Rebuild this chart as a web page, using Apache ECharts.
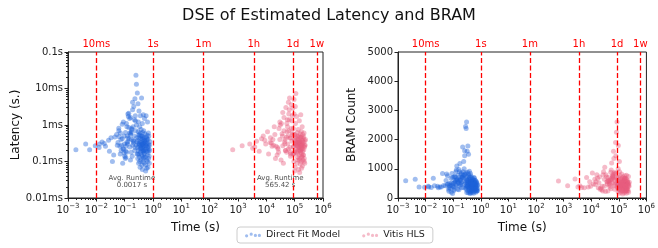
<!DOCTYPE html>
<html>
<head>
<meta charset="utf-8">
<script src="https://cdn.jsdelivr.net/npm/echarts@6/dist/echarts.min.js"></script>
<style>
  html, body { margin: 0; padding: 0; background: #fff; }
  #chart { width: 658px; height: 248px; }
</style>
</head>
<body>
<div id="chart"></div>
<script>
// one entry per design point: runtime (s), latency (ms), BRAM count
const dfTime = [
  0.0019, 0.0042, 0.0058, 0.0092, 0.0125, 0.016, 0.013, 0.021, 0.027, 0.019,
  0.033, 0.045, 0.029, 0.058, 0.041, 0.052, 0.068, 0.037, 0.074, 0.062,
  0.088, 0.071, 0.11, 0.082, 0.13, 0.095, 0.064, 0.12, 0.078, 0.15,
  0.105, 0.17, 0.092, 0.14, 0.2, 0.115, 0.085, 0.16, 0.19, 0.125,
  0.135, 0.1, 0.18, 0.21, 0.145, 0.24, 0.11, 0.19, 0.165, 0.13,
  0.16, 0.26, 0.12, 0.23, 0.25, 0.26, 0.175, 0.07, 0.22, 0.095,
  0.28, 0.285, 0.29, 0.29, 0.295, 0.3, 0.3, 0.305, 0.31, 0.31,
  0.315, 0.32, 0.32, 0.325, 0.33, 0.335, 0.34, 0.34, 0.345, 0.35,
  0.355, 0.36, 0.36, 0.365, 0.37, 0.375, 0.38, 0.38, 0.385, 0.39,
  0.395, 0.4, 0.4, 0.405, 0.41, 0.415, 0.42, 0.42, 0.425, 0.43,
  0.435, 0.44, 0.445, 0.45, 0.455, 0.46, 0.465, 0.47, 0.475, 0.48,
  0.485, 0.49, 0.5, 0.5, 0.51, 0.52, 0.53, 0.54, 0.55, 0.56,
  0.57, 0.58, 0.59, 0.6, 0.61, 0.62, 0.63, 0.64, 0.65, 0.66,
  0.67, 0.68, 0.69, 0.7, 0.7, 0.72, 0.74, 0.42, 0.55, 0.6,
  0.33, 0.37, 0.44, 0.48, 0.52, 0.58, 0.62, 0.66, 0.5, 0.45,
  0.055, 0.062, 0.075, 0.083, 0.09, 0.098, 0.107, 0.118, 0.125, 0.14,
  0.152, 0.163, 0.172, 0.185, 0.198, 0.205, 0.215, 0.228, 0.238, 0.245,
  0.255, 0.265, 0.275, 0.23, 0.21, 0.19, 0.17, 0.15, 0.13, 0.11,
  0.76, 0.78, 0.73, 0.71, 0.68, 0.64, 0.6, 0.57, 0.53, 0.49,
  0.27, 0.29, 0.31, 0.34, 0.37, 0.4, 0.43, 0.46, 0.5, 0.75
];
const dfLatency = [
  0.21, 0.30, 0.21, 0.27, 0.24, 0.34, 0.30, 0.26, 0.38, 0.31,
  0.45, 0.47, 0.19, 0.33, 0.15, 0.55, 0.26, 0.10, 0.40, 0.82,
  0.22, 0.60, 0.13, 1.05, 0.35, 0.17, 0.48, 0.9, 0.28, 1.5,
  0.12, 0.65, 0.22, 2.1, 0.37, 1.1, 0.09, 0.55, 2.6, 0.3,
  1.7, 0.14, 0.75, 3.2, 0.42, 1.3, 0.19, 4.2, 0.6, 2.0,
  0.11, 1.0, 0.33, 5.2, 23, 13, 0.8, 0.16, 1.4, 0.5,
  7.5, 0.24, 0.38, 0.12, 3.8, 0.65, 0.2, 1.2, 0.31, 0.09,
  0.45, 2.4, 0.16, 0.28, 0.55, 0.13, 0.9, 0.22, 0.35, 0.07,
  0.6, 1.8, 0.18, 0.27, 0.42, 0.11, 0.75, 0.24, 0.33, 0.15,
  5.5, 0.5, 0.2, 0.08, 0.29, 0.4, 1.1, 0.14, 0.23, 0.62,
  0.36, 0.1, 0.19, 0.48, 1.9, 0.27, 0.12, 0.7, 0.32, 0.17,
  0.09, 0.44, 0.25, 1.5, 0.21, 0.58, 0.13, 0.35, 0.08, 0.27,
  1.8, 0.46, 0.19, 0.11, 0.31, 0.52, 0.15, 1.2, 0.24, 0.07,
  0.4, 0.18, 0.6, 0.12, 0.3, 0.22, 0.09, 0.06, 0.055, 0.065,
  0.3, 0.5, 0.26, 0.2, 0.38, 0.28, 0.42, 0.2, 0.16, 0.3,
  0.28, 0.7, 0.2, 0.42, 1.2, 0.3, 0.62, 0.18, 0.5, 0.85,
  0.25, 1.6, 0.4, 0.14, 0.9, 0.32, 0.5, 0.2, 1.8, 0.7,
  0.28, 0.45, 0.16, 0.24, 0.36, 0.28, 0.18, 0.6, 0.44, 0.26,
  0.2, 0.35, 0.14, 0.5, 0.26, 0.1, 0.38, 0.22, 0.32, 0.13,
  0.34, 0.16, 0.52, 0.1, 0.23, 0.3, 0.45, 0.19, 0.36, 0.28
];
const dfBram = [
  590, 640, 380, 370, 400, 360, 380, 420, 400, 680,
  380, 430, 350, 820, 840, 420, 300, 380, 500, 460,
  520, 360, 300, 440, 620, 150, 480, 720, 330, 560,
  260, 900, 420, 610, 350, 740, 200, 980, 520, 470,
  1100, 380, 640, 710, 300, 1250, 520, 820, 410, 960,
  280, 1450, 600, 780, 1000, 1620, 1180, 230, 1750, 700,
  2450, 520, 860, 300, 2380, 640, 420, 2600, 380, 190,
  720, 1600, 460, 560, 880, 250, 1780, 600, 400, 180,
  820, 1500, 340, 650, 540, 280, 700, 480, 920, 220,
  620, 560, 360, 150, 700, 480, 840, 300, 520, 420,
  760, 210, 440, 620, 560, 380, 260, 700, 500, 340,
  180, 580, 650, 420, 300, 520, 240, 460, 160, 620,
  380, 540, 300, 220, 480, 600, 280, 420, 380, 200,
  520, 300, 460, 260, 560, 340, 240, 170, 420, 500,
  400, 460, 540, 480, 600, 680, 520, 440, 380, 300,
  600, 760, 420, 680, 840, 500, 720, 560, 900, 640,
  780, 700, 480, 620, 860, 540, 720, 900, 760, 680,
  460, 580, 820, 360, 700, 460, 600, 520, 440, 380,
  300, 450, 250, 520, 380, 600, 330, 700, 460, 260,
  800, 340, 600, 520, 760, 420, 560, 360, 480, 420
];

const hlsTime = [
  650, 1400, 2600, 3300, 4500, 3900, 6800, 5600, 9500, 7800,
  12000, 8800, 16000, 11000, 21000, 14000, 19000, 26000, 13500, 30000,
  24000, 36000, 18000, 42000, 33000, 28000, 46000, 38000, 52000, 31000,
  58000, 49000, 40000, 62000, 55000, 68000, 60000, 44000, 66000, 53000,
  71000, 64000, 80000, 76000, 57000, 82000, 48000, 86000, 72000, 78000,
  88000, 90000, 92000, 94000, 96000, 98000, 100000, 102000, 104000, 106000,
  108000, 110000, 112000, 114000, 116000, 118000, 120000, 122000, 124000, 126000,
  128000, 130000, 132000, 134000, 136000, 138000, 140000, 142000, 144000, 146000,
  148000, 150000, 152000, 154000, 156000, 158000, 160000, 162000, 164000, 166000,
  168000, 170000, 172000, 174000, 176000, 178000, 180000, 182000, 184000, 186000,
  188000, 190000, 192000, 194000, 196000, 198000, 200000, 203000, 206000, 210000,
  214000, 218000, 222000, 226000, 230000, 100000, 150000, 175000, 95000, 105000,
  110000, 125000, 135000, 145000, 155000, 165000, 115000, 140000, 160000, 185000,
  15000, 20000, 25000, 30000, 34000, 38000, 42000, 47000, 51000, 56000,
  60000, 64000, 68000, 72000, 76000, 80000, 84000, 70000, 62000, 54000,
  45000, 37000, 27000, 22000, 17000, 90000, 93000, 97000, 101000, 107000,
  113000, 119000, 127000, 133000, 139000, 147000, 153000, 161000, 169000, 179000,
  189000, 199000, 208000, 216000, 224000, 235000, 240000, 95000, 130000, 170000
];
const hlsLatency = [
  0.21, 0.27, 0.30, 0.23, 0.36, 0.25, 0.42, 0.19, 0.30, 0.5,
  0.16, 0.38, 0.26, 0.65, 0.12, 0.45, 0.9, 0.22, 0.33, 1.2,
  0.15, 0.58, 0.28, 1.6, 0.11, 0.8, 0.4, 2.2, 0.18, 1.0,
  0.5, 3.0, 0.09, 0.7, 1.4, 0.24, 4.2, 0.35, 5.5, 1.1,
  0.14, 2.6, 0.6, 3.6, 0.3, 1.8, 0.2, 2.9, 0.45, 1.3,
  0.16, 0.8, 0.26, 0.1, 2.0, 0.38, 0.55, 0.19, 0.07, 1.1,
  0.3, 7.3, 0.45, 0.22, 1.7, 0.34, 0.09, 0.62, 0.17, 0.27,
  0.4, 0.11, 0.2, 0.75, 0.32, 0.06, 0.5, 0.15, 0.25, 1.3,
  0.36, 0.12, 0.21, 0.58, 0.29, 0.085, 0.44, 0.18, 1.9, 0.24,
  0.33, 0.1, 0.66, 0.16, 0.28, 0.48, 0.13, 0.22, 0.9, 0.38,
  0.075, 0.3, 0.19, 0.55, 0.11, 0.26, 0.42, 0.15, 0.34, 0.21,
  0.6, 0.12, 0.28, 0.09, 0.37, 0.055, 0.05, 0.065, 5.0, 3.2,
  0.3, 0.5, 0.24, 0.33, 0.2, 0.46, 0.28, 0.38, 0.27, 0.22,
  0.32, 0.55, 0.24, 0.4, 1.1, 0.27, 0.7, 0.2, 0.46, 0.9,
  0.22, 1.4, 0.44, 0.16, 0.8, 0.36, 0.55, 0.18, 2.0, 0.65,
  0.3, 0.5, 0.18, 0.26, 0.4, 0.25, 0.16, 0.55, 0.4, 0.3,
  0.18, 0.32, 0.13, 0.46, 0.24, 0.11, 0.34, 0.2, 0.3, 0.14,
  0.36, 0.15, 0.48, 0.1, 0.25, 0.28, 0.4, 0.17, 0.33, 0.26
];
const hlsBram = [
  580, 420, 650, 380, 360, 420, 700, 350, 400, 380,
  480, 560, 800, 860, 300, 460, 520, 240, 640, 400,
  280, 720, 350, 600, 220, 900, 480, 560, 320, 1050,
  700, 620, 240, 820, 1200, 420, 760, 580, 1350, 960,
  300, 1600, 680, 1900, 520, 2250, 380, 2600, 840, 1450,
  360, 560, 480, 220, 1800, 700, 620, 400, 160, 900,
  520, 300, 760, 440, 380, 660, 200, 580, 360, 820,
  480, 260, 540, 680, 400, 140, 620, 300, 720, 460,
  560, 240, 440, 380, 640, 180, 520, 340, 500, 760,
  420, 220, 600, 300, 540, 680, 260, 460, 380, 580,
  160, 500, 320, 640, 240, 440, 560, 300, 480, 380,
  520, 260, 420, 200, 460, 300, 420, 500, 1000, 1250,
  400, 460, 540, 480, 600, 680, 520, 440, 380, 300,
  560, 720, 400, 640, 800, 480, 700, 540, 880, 620,
  760, 680, 460, 600, 840, 520, 700, 880, 740, 660,
  440, 560, 800, 340, 680, 440, 580, 500, 420, 360,
  280, 430, 240, 500, 360, 580, 320, 680, 440, 250,
  780, 320, 580, 500, 740, 400, 540, 340, 460, 400
];

const timeMarks = [0.01, 1, 60, 3600, 86400, 604800];
const timeMarkLabels = ['10ms', '1s', '1m', '1h', '1d', '1w'];
const timeTicks = [1e-3, 1e-2, 1e-1, 1, 10, 100, 1e3, 1e4, 1e5, 1e6];
const latencyTicks = [0.01, 0.1, 1, 10, 100];
const latencyTickLabels = ['0.01ms', '0.1ms', '1ms', '10ms', '0.1s'];
const avgRuntimeAt = [[0.18, 0.028], [31000, 0.028]];
const avgRuntimeText = ['0.0017 s', '565.42 s'];

const FONT = 'DejaVu Sans';
const BLUE = '#1c62d9';
const PINK = '#e65c7e';

const zip = (a, b) => a.map((v, i) => [v, b[i]]);

// minor ticks at 2..9 x 10^k, like a matplotlib log axis
function logMinors(lo, hi) {
  const out = [];
  for (let e = lo; e < hi; e++) for (let m = 2; m < 10; m++) out.push(m * Math.pow(10, e));
  return out;
}

function timeLabel(v) {
  const e = Math.round(Math.log10(v));
  return '10{e|' + (e < 0 ? '\u2212' + (-e) : e) + '}';
}

function timeAxis(gridIndex) {
  return {
    type: 'log', logBase: 10, gridIndex, min: 1e-3, max: 1e6,
    name: 'Time (s)', nameLocation: 'middle', nameGap: 24,
    nameTextStyle: { fontSize: 12, color: '#111', fontFamily: FONT },
    axisLine: { lineStyle: { color: '#222' } },
    axisTick: { length: 3.5, lineStyle: { color: '#222' }, customValues: timeTicks },
    axisLabel: {
      customValues: timeTicks, formatter: timeLabel, color: '#222', fontSize: 10, fontFamily: FONT, margin: 5,
      rich: { e: { fontSize: 7, fontFamily: FONT, color: '#222', padding: [0, 0, 7, 0] } }
    },
    splitLine: { show: false }
  };
}

function minorAxis(gridIndex, lo, hi, min, max, isY) {
  return {
    type: 'log', logBase: 10, gridIndex, min, max,
    position: isY ? 'left' : 'bottom',
    axisLine: { show: false },
    axisTick: { length: 2, lineStyle: { color: '#222' }, customValues: logMinors(lo, hi) },
    axisLabel: { show: false },
    splitLine: { show: false }
  };
}

const markLineSeries = (xi, yi) => ({
  type: 'scatter', xAxisIndex: xi, yAxisIndex: yi, data: [], silent: true,
  markLine: {
    silent: true, symbol: ['none', 'none'], animation: false,
    lineStyle: { color: '#ff0000', type: [5, 2.5], width: 1.3 },
    label: { show: true, position: 'end', formatter: '{b}', color: '#ff0000', fontSize: 10, fontFamily: FONT, distance: 3 },
    data: timeMarks.map((v, i) => ({ xAxis: v, name: timeMarkLabels[i] }))
  }
});

const scatter = (name, color, xi, yi, data) => ({
  name, type: 'scatter', xAxisIndex: xi, yAxisIndex: yi, data,
  symbolSize: 5, itemStyle: { color, opacity: 0.42 }
});

const chart = echarts.init(document.getElementById('chart'));
chart.setOption({
  animation: false,
  textStyle: { fontFamily: FONT },
  title: {
    text: 'DSE of Estimated Latency and BRAM', left: 'center', top: 3,
    textStyle: { fontSize: 16, fontWeight: 'normal', color: '#111', fontFamily: FONT }
  },
  legend: {
    data: ['Direct Fit Model', 'Vitis HLS'], left: 237, top: 227,
    itemWidth: 16, itemHeight: 6, itemGap: 22,
    icon: 'path://M0,4a1.6,1.6 0 1,0 3.2,0a1.6,1.6 0 1,0 -3.2,0Z M4.6,2.4a1.6,1.6 0 1,0 3.2,0a1.6,1.6 0 1,0 -3.2,0Z M8.8,3.6a1.6,1.6 0 1,0 3.2,0a1.6,1.6 0 1,0 -3.2,0Z M12.8,3.6a1.6,1.6 0 1,0 3.2,0a1.6,1.6 0 1,0 -3.2,0Z',
    textStyle: { fontSize: 9.5, color: '#222', fontFamily: FONT },
    borderColor: '#ccc', borderWidth: 1, borderRadius: 3, padding: [3, 8, 3, 8]
  },
  grid: [
    { left: 68, top: 52, width: 255, height: 146, show: true, borderColor: '#222', borderWidth: 1 },
    { left: 398, top: 52, width: 255, height: 146, show: true, borderColor: '#222', borderWidth: 1 }
  ],
  xAxis: [
    timeAxis(0), minorAxis(0, -3, 6, 1e-3, 1e6, false),
    timeAxis(1), minorAxis(1, -3, 6, 1e-3, 1e6, false)
  ],
  yAxis: [
    {
      type: 'log', logBase: 10, gridIndex: 0, min: 0.01, max: 100,
      name: 'Latency (s.)', nameLocation: 'middle', nameGap: 46,
      nameTextStyle: { fontSize: 12, color: '#111', fontFamily: FONT },
      axisLine: { show: true, lineStyle: { color: '#222' } },
      axisTick: { show: true, length: 3.5, lineStyle: { color: '#222' }, customValues: latencyTicks },
      axisLabel: {
        customValues: latencyTicks, color: '#222', fontSize: 10, fontFamily: FONT, margin: 5,
        formatter: v => latencyTickLabels[Math.round(Math.log10(v)) + 2]
      },
      splitLine: { show: false }
    },
    minorAxis(0, -2, 2, 0.01, 100, true),
    {
      type: 'value', gridIndex: 1, min: 0, max: 5000, interval: 1000,
      name: 'BRAM Count', nameLocation: 'middle', nameGap: 40,
      nameTextStyle: { fontSize: 12, color: '#111', fontFamily: FONT },
      axisLine: { show: true, lineStyle: { color: '#222' } },
      axisTick: { show: true, length: 3.5, lineStyle: { color: '#222' } },
      axisLabel: { color: '#222', fontSize: 10, fontFamily: FONT, margin: 5, formatter: v => String(v) },
      splitLine: { show: false }
    }
  ],
  series: [
    markLineSeries(0, 0),
    markLineSeries(2, 2),
    scatter('Direct Fit Model', BLUE, 0, 0, zip(dfTime, dfLatency)),
    scatter('Vitis HLS', PINK, 0, 0, zip(hlsTime, hlsLatency)),
    scatter('Direct Fit Model', BLUE, 2, 2, zip(dfTime, dfBram)),
    scatter('Vitis HLS', PINK, 2, 2, zip(hlsTime, hlsBram)),
    {
      type: 'scatter', xAxisIndex: 0, yAxisIndex: 0, silent: true, symbolSize: 0,
      data: avgRuntimeAt.map((p, i) => ({ value: p, text: avgRuntimeText[i] })),
      label: {
        show: true, position: 'inside', color: '#222', fontSize: 7, lineHeight: 7.5, fontFamily: FONT,
        formatter: p => 'Avg. Runtime\n' + p.data.text
      }
    }
  ]
});
</script>
</body>
</html>
